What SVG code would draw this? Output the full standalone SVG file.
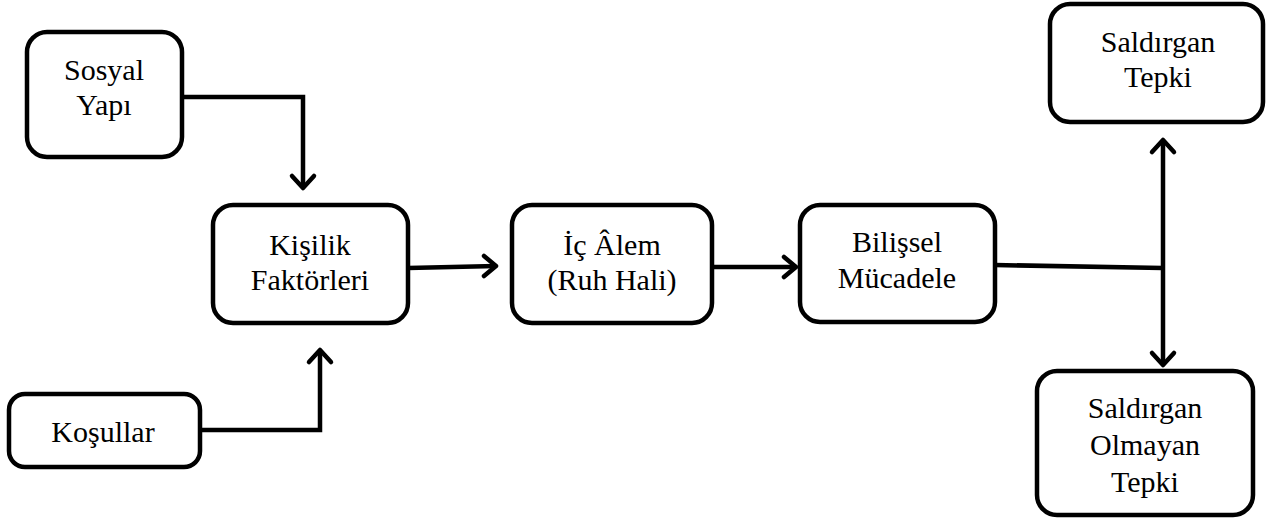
<svg xmlns="http://www.w3.org/2000/svg" width="1271" height="524" viewBox="0 0 1271 524">
<style>
.box{fill:#fff;stroke:#000;stroke-width:4.5}
.c{fill:none;stroke:#000;stroke-width:4.5;stroke-linejoin:miter}
.ah{fill:none;stroke:#000;stroke-width:4.5;stroke-linecap:round;stroke-linejoin:round}
</style>
<rect width="1271" height="524" fill="#fff"/>
<g id="connectors">
<path class="c" d="M182 97 H303 V188"/>
<path class="ah" d="M292 176 L303 188 L314 176"/>
<path class="c" d="M200 430 H320 V350"/>
<path class="ah" d="M309 362 L320 350 L331 362"/>
<path class="c" d="M408 268 L496 266"/>
<path class="ah" d="M484 256 L496 266 L484 276"/>
<path class="c" d="M712 267 H796"/>
<path class="ah" d="M784 257 L796 267 L784 277"/>
<path class="c" d="M995 265 L1163 268"/>
<path class="c" d="M1163 140 V365"/>
<path class="ah" d="M1152 152 L1163 140 L1174 152"/>
<path class="ah" d="M1152 353 L1163 365 L1174 353"/>
</g>
<g font-family="Liberation Serif, Times New Roman, DejaVu Serif, serif" font-size="30" text-anchor="middle" fill="#000">
<g id="n-sosyal">
<rect class="box" x="27" y="32" width="155" height="125" rx="20"/>
<text x="104" y="80">Sosyal</text>
<text x="104" y="115">Yapı</text>
</g>
<g id="n-kosullar">
<rect class="box" x="9" y="394" width="191" height="73" rx="16"/>
<text x="103" y="442">Koşullar</text>
</g>
<g id="n-kisilik">
<rect class="box" x="213" y="205" width="195" height="118" rx="20"/>
<text x="310" y="255">Kişilik</text>
<text x="310" y="290">Faktörleri</text>
</g>
<g id="n-icalem">
<rect class="box" x="512" y="205" width="200" height="118" rx="20"/>
<text x="612" y="255">İç Âlem</text>
<text x="612" y="290">(Ruh Hali)</text>
</g>
<g id="n-bilissel">
<rect class="box" x="800" y="205" width="195" height="117" rx="20"/>
<text x="897" y="252">Bilişsel</text>
<text x="897" y="288">Mücadele</text>
</g>
<g id="n-saldirgan">
<rect class="box" x="1050" y="4" width="213" height="118" rx="20"/>
<text x="1158" y="52">Saldırgan</text>
<text x="1158" y="87">Tepki</text>
</g>
<g id="n-olmayan">
<rect class="box" x="1037" y="371" width="216" height="144" rx="20"/>
<text x="1145" y="418">Saldırgan</text>
<text x="1145" y="455">Olmayan</text>
<text x="1145" y="492">Tepki</text>
</g>
</g>
</svg>
